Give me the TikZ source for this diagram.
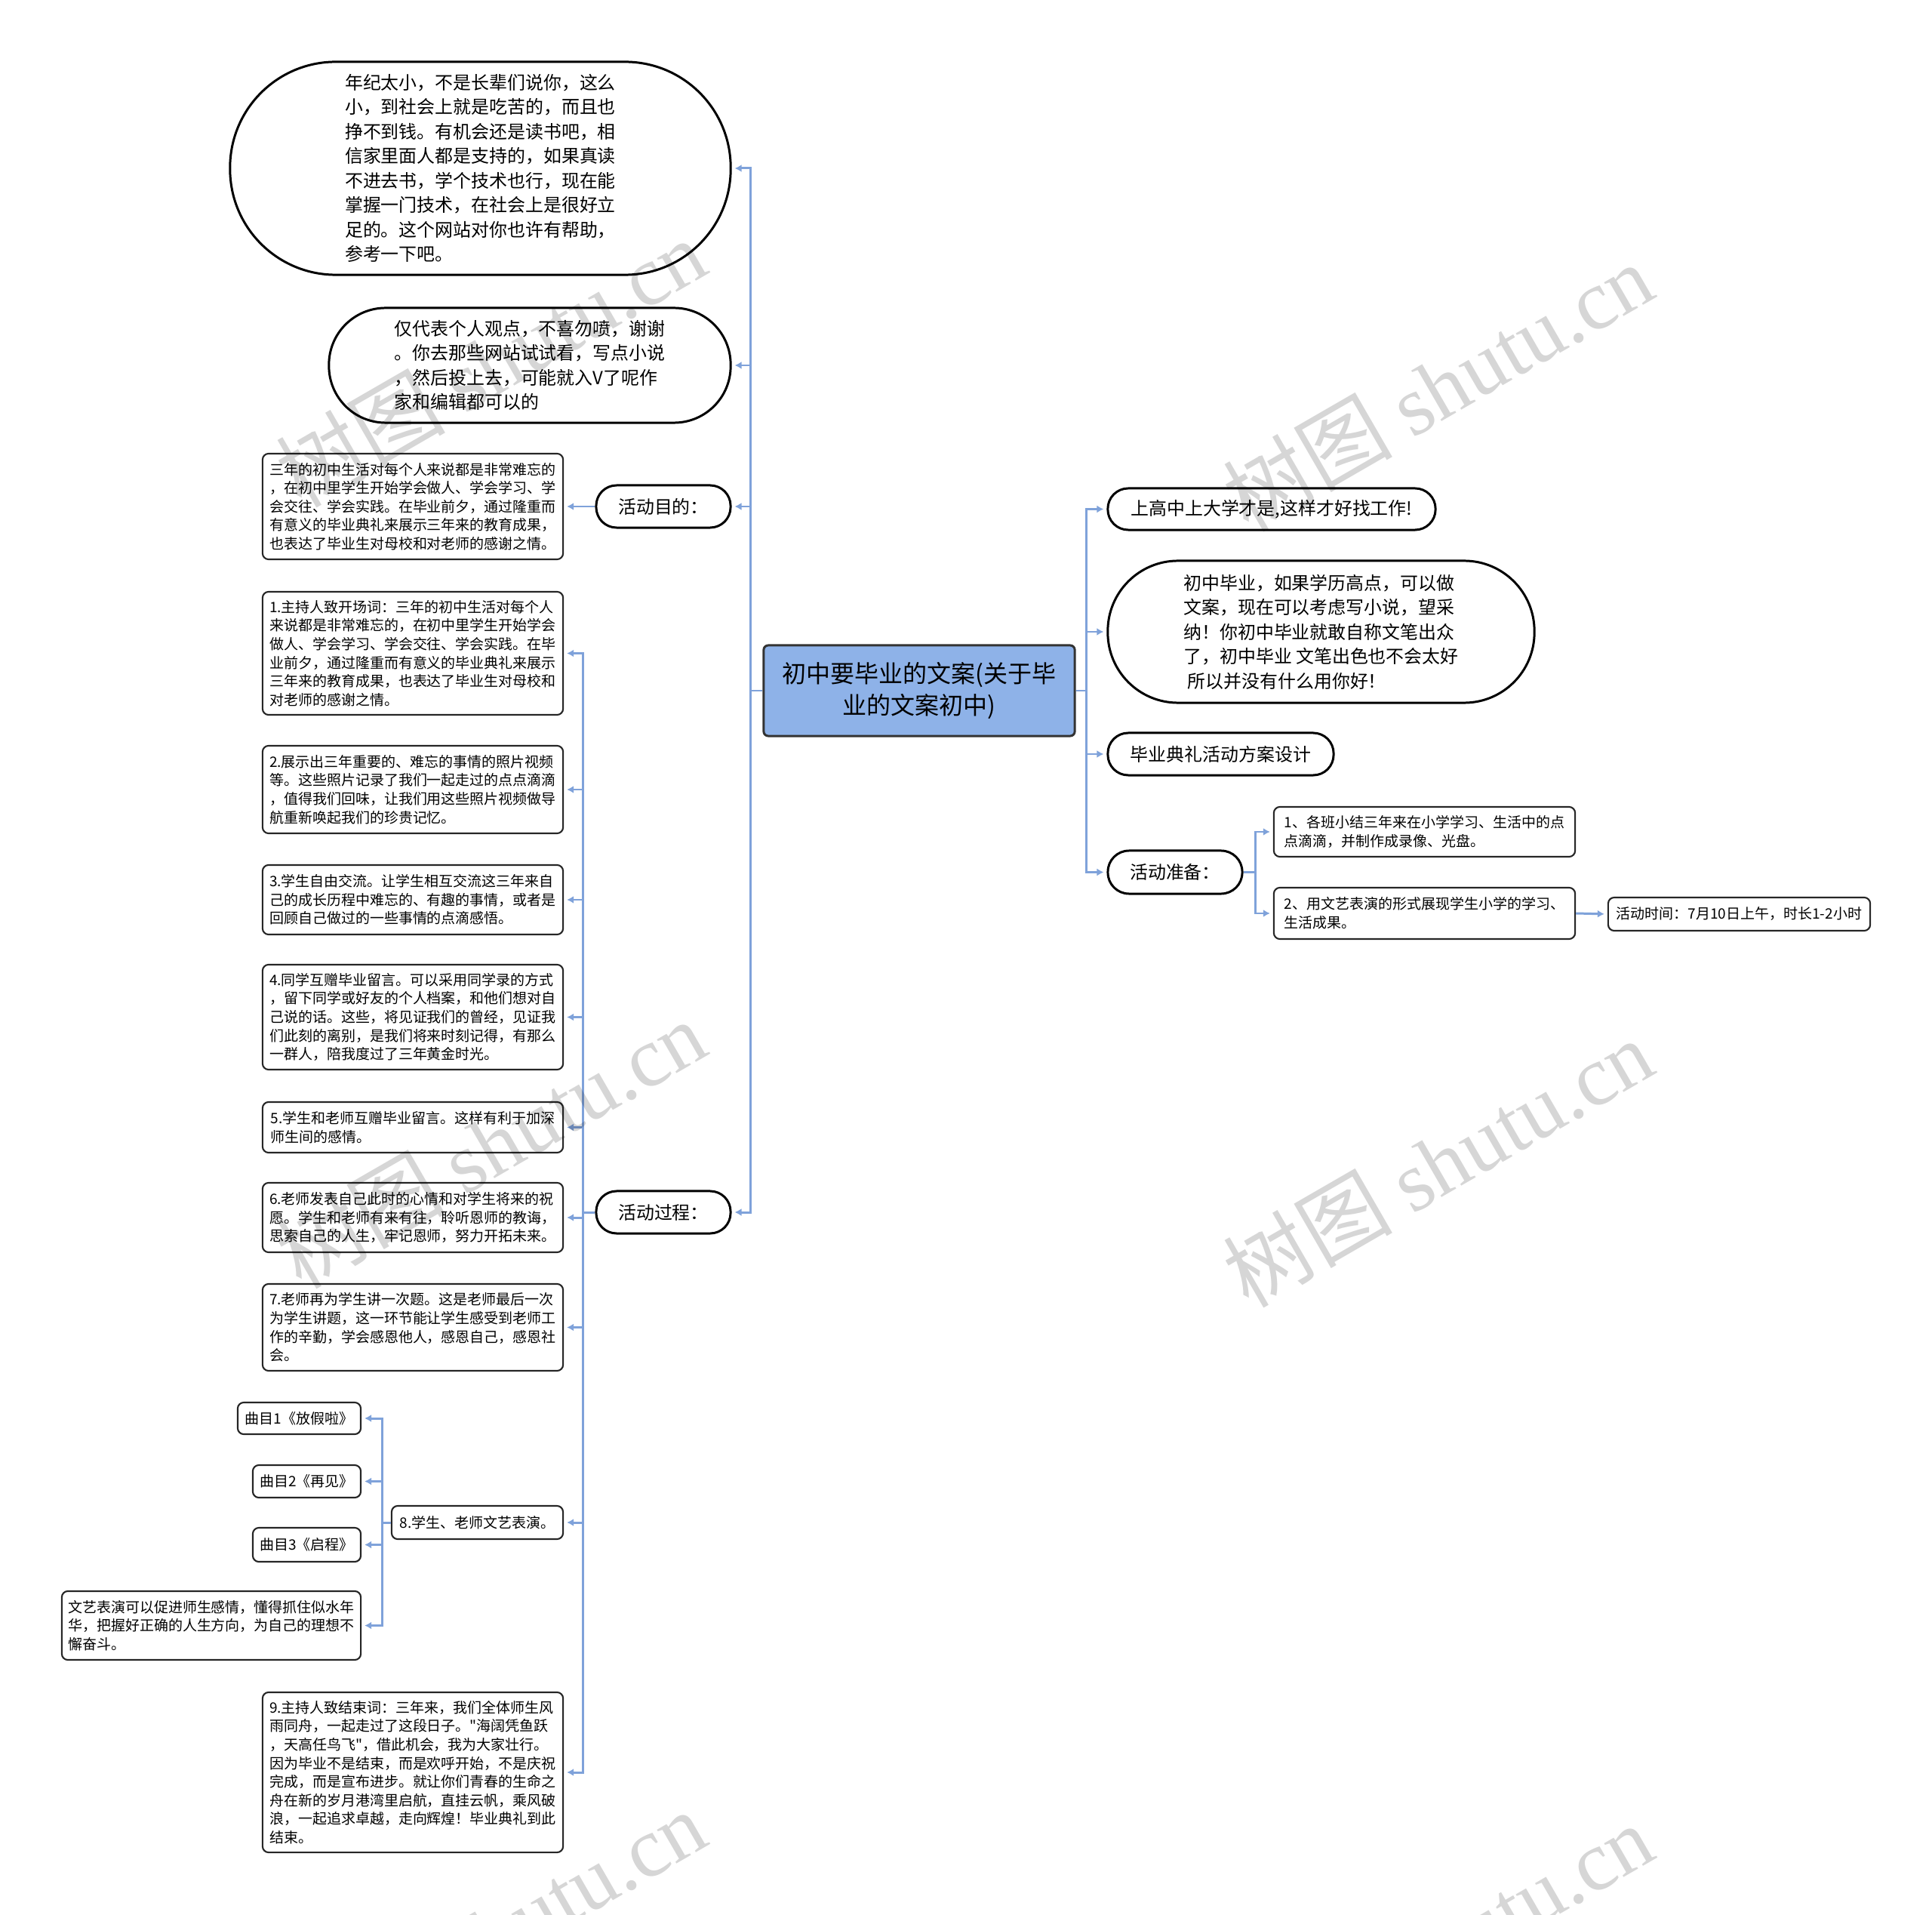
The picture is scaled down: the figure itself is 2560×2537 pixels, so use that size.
\documentclass[tikz,border=0pt]{standalone}
\usepackage{fontspec}
\setmainfont{Noto Sans CJK SC}[Ligatures=TeXOff]
\newfontfamily\wmserif{Liberation Serif}
\usetikzlibrary{arrows.meta}
\definecolor{linkc}{HTML}{7FA2DA}
\definecolor{rootc}{HTML}{8EB2E8}
\newcommand\fsbig{\fontsize{6.8pt}{9.25pt}\selectfont}
\newcommand\fssmall{\fontsize{5.4pt}{7pt}\selectfont}
\newcommand\fsroot{\fontsize{9.1pt}{12pt}\selectfont}
\tikzset{
  link/.style={draw=linkc, line width=0.85pt, -{Latex[length=0.09cm,width=0.1cm]}, shorten >=0.04cm},
  plain/.style={draw=linkc, line width=0.85pt},
  basebox/.style={align=left, inner sep=0pt, text=black},
  lvl/.style={basebox, draw=black, line width=0.85pt, fill=white, font=\fsbig},
  leaf/.style={basebox, draw=black!85, line width=0.6pt, fill=white, rounded corners=0.08cm, font=\fssmall},
  rootbox/.style={align=center, inner sep=0pt, draw=black!80, line width=0.85pt, fill=rootc, rounded corners=0.06cm, font=\fsroot},
  wm/.style={rotate=30, text=black, opacity=0.16, font=\fontsize{32pt}{32pt}\selectfont}
}
\begin{document}
\begin{tikzpicture}[x=0.01cm, y=-0.01cm]
\useasboundingbox[fill=white] (0,0) rectangle (2560,2537);

% root
\node[rootbox, minimum width=4.12cm, minimum height=1.2cm] (root) at (1218,915) {初中要毕业的文案(关于毕\\业的文案初中)};

% left level 1
\node[lvl, minimum width=6.63cm, minimum height=2.82cm, rounded corners=1.4cm] (A) at (636.5,223) {年纪太小，不是长辈们说你，这么\\小，到社会上就是吃苦的，而且也\\挣不到钱。有机会还是读书吧，相\\信家里面人都是支持的，如果真读\\不进去书，学个技术也行，现在能\\掌握一门技术，在社会上是很好立\\足的。这个网站对你也许有帮助，\\参考一下吧。};
\node[lvl, minimum width=5.32cm, minimum height=1.52cm, rounded corners=0.75cm] (B) at (702,484) {仅代表个人观点，不喜勿喷，谢谢\\。你去那些网站试试看，写点小说\\，然后投上去，可能就入V了呢作\\家和编辑都可以的};
\node[lvl, minimum width=1.78cm, minimum height=0.56cm, rounded corners=0.27cm] (G) at (879,671) {活动目的：};
\node[lvl, minimum width=1.78cm, minimum height=0.56cm, rounded corners=0.27cm] (P) at (879,1606) {活动过程：};

\node[leaf, minimum width=3.98cm, minimum height=1.4cm] (G1) at (547,671) {三年的初中生活对每个人来说都是非常难忘的\\，在初中里学生开始学会做人、学会学习、学\\会交往、学会实践。在毕业前夕，通过隆重而\\有意义的毕业典礼来展示三年来的教育成果，\\也表达了毕业生对母校和对老师的感谢之情。};

% steps
\node[leaf, minimum width=3.98cm, minimum height=1.63cm] (S1) at (547,865.5) {1.主持人致开场词：三年的初中生活对每个人\\来说都是非常难忘的，在初中里学生开始学会\\做人、学会学习、学会交往、学会实践。在毕\\业前夕，通过隆重而有意义的毕业典礼来展示\\三年来的教育成果，也表达了毕业生对母校和\\对老师的感谢之情。};
\node[leaf, minimum width=3.98cm, minimum height=1.16cm] (S2) at (547,1046) {2.展示出三年重要的、难忘的事情的照片视频\\等。这些照片记录了我们一起走过的点点滴滴\\，值得我们回味，让我们用这些照片视频做导\\航重新唤起我们的珍贵记忆。};
\node[leaf, minimum width=3.98cm, minimum height=0.92cm] (S3) at (547,1192) {3.学生自由交流。让学生相互交流这三年来自\\己的成长历程中难忘的、有趣的事情，或者是\\回顾自己做过的一些事情的点滴感悟。};
\node[leaf, minimum width=3.98cm, minimum height=1.39cm] (S4) at (547,1347.5) {4.同学互赠毕业留言。可以采用同学录的方式\\，留下同学或好友的个人档案，和他们想对自\\己说的话。这些，将见证我们的曾经，见证我\\们此刻的离别，是我们将来时刻记得，有那么\\一群人，陪我度过了三年黄金时光。};
\node[leaf, minimum width=3.98cm, minimum height=0.67cm] (S5) at (547,1493.5) {5.学生和老师互赠毕业留言。这样有利于加深\\师生间的感情。};
\node[leaf, minimum width=3.98cm, minimum height=0.92cm] (S6) at (547,1613) {6.老师发表自己此时的心情和对学生将来的祝\\愿。学生和老师有来有往，聆听恩师的教诲，\\思索自己的人生，牢记恩师，努力开拓未来。};
\node[leaf, minimum width=3.98cm, minimum height=1.15cm] (S7) at (547,1758.5) {7.老师再为学生讲一次题。这是老师最后一次\\为学生讲题，这一环节能让学生感受到老师工\\作的辛勤，学会感恩他人，感恩自己，感恩社\\会。};
\node[leaf, minimum width=2.27cm, minimum height=0.44cm] (S8) at (632.5,2017) {8.学生、老师文艺表演。};
\node[leaf, minimum width=3.98cm, minimum height=2.12cm] (S9) at (547,2348) {9.主持人致结束词：三年来，我们全体师生风\\雨同舟，一起走过了这段日子。"海阔凭鱼跃\\，天高任鸟飞"，借此机会，我为大家壮行。\\因为毕业不是结束，而是欢呼开始，不是庆祝\\完成，而是宣布进步。就让你们青春的生命之\\舟在新的岁月港湾里启航，直挂云帆，乘风破\\浪，一起追求卓越，走向辉煌！毕业典礼到此\\结束。};

\node[leaf, minimum width=1.63cm, minimum height=0.42cm] (Q1) at (396.5,1879) {曲目1《放假啦》};
\node[leaf, minimum width=1.43cm, minimum height=0.43cm] (Q2) at (406.5,1962.5) {曲目2《再见》};
\node[leaf, minimum width=1.43cm, minimum height=0.45cm] (Q3) at (406.5,2046.5) {曲目3《启程》};
\node[leaf, minimum width=3.96cm, minimum height=0.91cm] (Q4) at (280,2153.5) {文艺表演可以促进师生感情，懂得抓住似水年\\华，把握好正确的人生方向，为自己的理想不\\懈奋斗。};

% right
\node[lvl, minimum width=4.34cm, minimum height=0.55cm, rounded corners=0.27cm] (R1) at (1685,674.5) {上高中上大学才是,这样才好找工作!};
\node[lvl, minimum width=5.65cm, minimum height=1.88cm, rounded corners=0.93cm] (R2) at (1750.5,837) {初中毕业，如果学历高点，可以做\\文案，现在可以考虑写小说，望采\\纳！你初中毕业就敢自称文笔出众\\了，初中毕业 文笔出色也不会太好\\\ 所以并没有什么用你好！};
\node[lvl, minimum width=2.99cm, minimum height=0.56cm, rounded corners=0.27cm] (R3) at (1617.5,999) {毕业典礼活动方案设计};
\node[lvl, minimum width=1.78cm, minimum height=0.57cm, rounded corners=0.28cm] (R4) at (1557,1155.5) {活动准备：};
\node[leaf, minimum width=3.99cm, minimum height=0.66cm] (R4a) at (1887.5,1102) {1、各班小结三年来在小学学习、生活中的点\\点滴滴，并制作成录像、光盘。};
\node[leaf, minimum width=3.99cm, minimum height=0.68cm] (R4b) at (1887.5,1210) {2、用文艺表演的形式展现学生小学的学习、\\生活成果。};
\node[leaf, minimum width=3.47cm, minimum height=0.44cm] (R4c) at (2304.5,1211) {活动时间：7月10日上午，时长1-2小时};

% connectors left
\draw[plain] (root.west) -- ++(-16,0);
\foreach \n in {A,B,G,P} \draw[link] ([xshift=-0.16cm]root.west) |- (\n.east);
\draw[link] (G.west) -- (G1.east);
\foreach \n in {S1,S2,S3,S4,S5,S6,S7,S8,S9} \draw[link] ([xshift=-0.16cm]P.west) |- (\n.east);
\draw[plain] (P.west) -- ++(-16,0);
\foreach \n in {Q1,Q2,Q3,Q4} \draw[link] ([xshift=-0.11cm]S8.west) |- (\n.east);
\draw[plain] (S8.west) -- ++(-11,0);

% connectors right
\draw[plain] (root.east) -- ++(14,0);
\foreach \n in {R1,R2,R3,R4} \draw[link] ([xshift=0.14cm]root.east) |- (\n.west);
\draw[plain] (R4.east) -- ++(16,0);
\foreach \n in {R4a,R4b} \draw[link] ([xshift=0.16cm]R4.east) |- (\n.west);
\draw[link] (R4b.east) -- (R4c.west);

% watermark
\foreach \x/\y in {650/480, 1905/512, 650/1515, 1905/1540, 650/2562, 1905/2580}
  \node[wm] at (\x,\y) {树图 {\wmserif shutu.cn}};
\end{tikzpicture}
\end{document}
